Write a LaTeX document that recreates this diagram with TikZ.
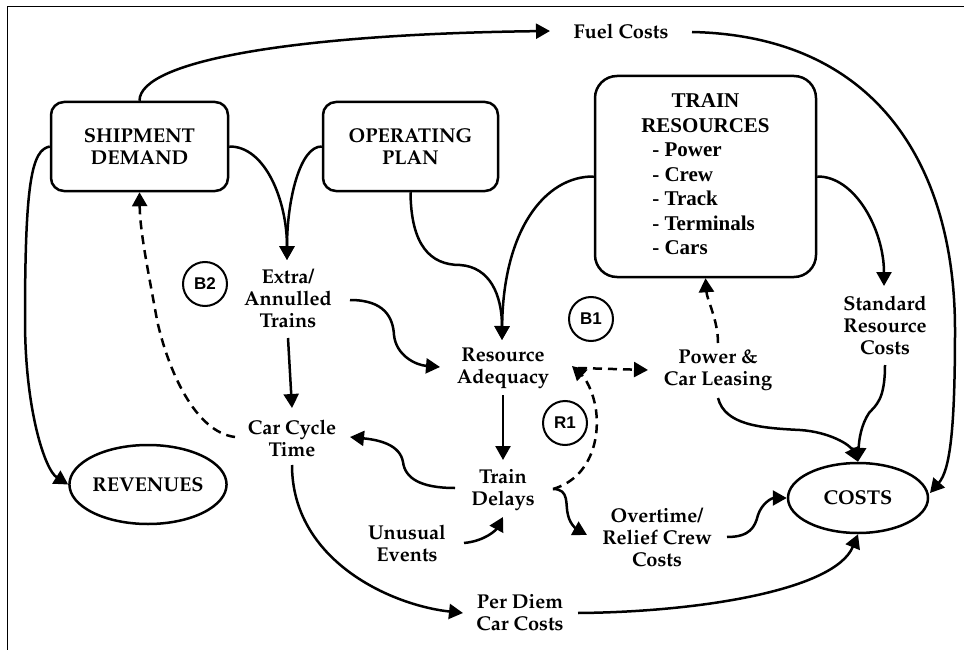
\documentclass[tikz,border=0pt]{standalone}
\usepackage[T1]{fontenc}
\usepackage{fontspec}
\usetikzlibrary{arrows.meta,shapes.geometric,calc}
\newfontfamily\trfont{Liberation Serif}
\newfontfamily\loopfont{Liberation Sans}
\newcommand\palfont{\fontencoding{T1}\fontfamily{ppl}\fontseries{b}\selectfont}
\begin{document}
\begin{tikzpicture}[x=1pt,y=-1pt,
  every node/.style={font=\palfont\fontsize{20}{22}\selectfont},
  lbl/.style={align=center,inner sep=0pt},
  rbox/.style={draw,line width=2.5pt,rounded corners=13pt,align=center,inner sep=0pt},
  ell/.style={draw,ellipse,line width=2.5pt,inner sep=0pt},
  loopc/.style={draw,circle,line width=2pt,minimum size=44pt,inner sep=0pt,font=\loopfont\bfseries\fontsize{17}{17}\selectfont},
  arr/.style={line width=2.5pt,-{Triangle[length=14pt,width=15pt]}},
  darr/.style={arr,dash pattern=on 9pt off 6pt}]
\useasboundingbox (0,0) rectangle (964,650);
\fill[white] (0,0) rectangle (964,650);
\draw[line width=1.8pt] (7.5,650) -- (7.5,6.5) -- (964,6.5);

% boxes
\node[rbox,minimum width=177pt,minimum height=89pt] (sd) at (139.5,146.5) {SHIPMENT\\DEMAND};
\node[rbox,minimum width=175pt,minimum height=89pt] (op) at (410.5,146.5) {OPERATING\\PLAN};
\node[rbox,rounded corners=22pt,minimum width=221pt,minimum height=201pt,
  font=\trfont\bfseries\fontsize{21}{24.5}\selectfont] (tr) at (705.5,176.5)
  {\begin{tabular}{@{}l@{}}\multicolumn{1}{@{}c@{}}{TRAIN}\\ RESOURCES\\ \hspace*{11pt}- Power\\ \hspace*{11pt}- Crew\\ \hspace*{11pt}- Track\\ \hspace*{11pt}- Terminals\\ \hspace*{11pt}- Cars\end{tabular}};
\node[ell,minimum width=142pt,minimum height=79pt] (rev) at (148,484.5) {REVENUES};
\node[ell,minimum width=140pt,minimum height=70pt] (costs) at (858,498) {COSTS};

% text nodes
\node[lbl] (fuel) at (621,31) {Fuel Costs};
\node[lbl] (ext) at (288,298) {Extra/\\Annulled\\Trains};
\node[lbl] (ra) at (503,368) {Resource\\Adequacy};
\node[lbl] (td) at (503,490) {Train\\Delays};
\node[lbl] (cct) at (292,438) {Car Cycle\\Time};
\node[lbl] (ue) at (407,543) {Unusual\\Events};
\node[lbl] (pd) at (520,613) {Per Diem\\Car Costs};
\node[lbl] (ot) at (657,537) {Overtime/\\Relief Crew\\Costs};
\node[lbl] (pcl) at (718,370) {Power \&\\Car Leasing};
\node[lbl] (src) at (885,325) {Standard\\Resource\\Costs};

% loop markers
\node[loopc] (b2) at (205,284) {B2};
\node[loopc] (b1) at (591,319) {B1};
\node[loopc] (r1) at (565,423) {R1};

% connectors
\draw[arr] (sd.north) .. controls (139.5,60) and (300,34) .. ($(fuel)+(-71,0)$);
\draw[arr] ($(fuel)+(71,1)$) .. controls (880,36) and (955,170) .. (955,330)
   .. controls (955,430) and (950,470) .. ($(costs)+(72,-5)$);
\draw[arr] (sd.west) .. controls (32,150) and (25,180) .. (25,320)
   .. controls (25,410) and (45,470) .. (rev.west);
\draw[arr] (sd.east) .. controls (265,146) and (287,200) .. ($(ext)+(-1,-38)$);
\draw[arr] (op.west) .. controls (300,146) and (287,200) .. ($(ext)+(-1,-38)$);
\draw[arr] (op.south) .. controls (411,245) and (430,265) .. (460,265)
   .. controls (490,267) and (502,295) .. ($(ra)+(-1,-28)$);
\draw[arr] (tr.west) .. controls (545,176) and (503,230) .. ($(ra)+(-1,-28)$);
\draw[arr] (tr.east) .. controls (855,176) and (884,230) .. ($(src)+(-1,-39)$);
\draw[arr] ($(ext)+(62,2)$) .. controls (385,300) and (393,318) .. (394,335)
   .. controls (396,355) and (415,365) .. ($(ra)+(-63,-1)$);
\draw[arr] ($(ext)+(0,40)$) -- ($(cct)+(0,-30)$);
\draw[darr] ($(cct)+(-57,-1)$) .. controls (195,432) and (168,370) .. (157,320)
   .. controls (148,270) and (140,232) .. (sd.south);
\draw[arr] ($(ra)+(0,27)$) -- ($(td)+(0,-30)$);
\draw[arr] ($(td)+(-48,-2)$) .. controls (420,488) and (405,478) .. (403,462)
   .. controls (400,445) and (380,440) .. ($(cct)+(58,-1)$);
\draw[arr] ($(ue)+(57,0)$) .. controls (485,541) and (496,530) .. ($(td)+(0,27)$);
\draw[arr] ($(cct)+(0,27)$) .. controls (292,560) and (390,605) .. ($(pd)+(-57,0)$);
\draw[darr] ($(td)+(50,-1)$) .. controls (590,478) and (600,440) .. (596,410)
   .. controls (593,390) and (585,378) .. ($(ra)+(69,-2)$);
\draw[darr] ($(ra)+(75,0)$) -- ($(pcl)+(-70,0)$);
\draw[darr] ($(pcl)+(0,-27)$) .. controls (718,320) and (707,300) .. (tr.south);
\draw[arr] ($(td)+(50,-1)$) .. controls (570,489) and (565,505) .. (568,515)
   .. controls (570,525) and (578,530) .. ($(ot)+(-70,-2)$);
\draw[arr] ($(pcl)+(0,28)$) .. controls (725,425) and (760,428) .. (800,430)
   .. controls (830,432) and (850,445) .. (costs.north);
\draw[arr] ($(src)+(0,40)$) .. controls (885,400) and (876,405) .. (869,413)
   .. controls (861,425) and (859,440) .. (costs.north);
\draw[arr] ($(ot)+(70,0)$) .. controls (750,537) and (755,527) .. (758,515)
   .. controls (762,503) and (772,498) .. (costs.west);
\draw[arr] ($(pd)+(58,0)$) .. controls (700,612) and (835,590) .. (costs.south);
\end{tikzpicture}
\end{document}
